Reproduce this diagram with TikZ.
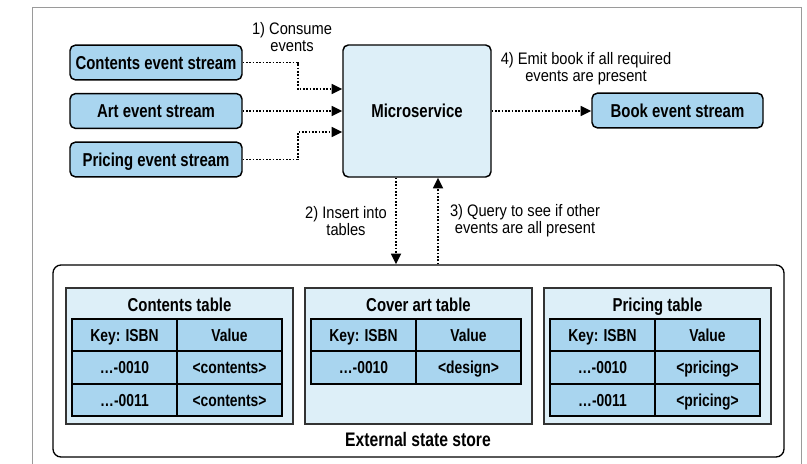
\documentclass[tikz,border=0pt]{standalone}
\usepackage{fontspec}
\setmainfont{Liberation Sans}[FakeStretch=0.88]
\newfontfamily\boxfont{Liberation Sans}[FakeStretch=0.8]
\usepackage{tikz}
\usetikzlibrary{arrows}
\usetikzlibrary{arrows.meta}
\usetikzlibrary{calc}
\tikzset{>={Triangle[length=8pt,width=7.5pt]}}
\definecolor{streamblue}{HTML}{A9D5EF}
\definecolor{paleblue}{HTML}{DDEFF8}
\definecolor{framegray}{HTML}{9A9A9A}
\tikzset{
	stream/.style={draw,line width=1.1pt,rounded corners=4pt,fill=streamblue,
		minimum width=129pt,minimum height=26pt,inner sep=0pt,
		text height=10pt,text depth=0pt,
		font=\boxfont\bfseries\fontsize{14}{16}\selectfont},
	service/.style={draw,line width=1.1pt,rounded corners=4pt,fill=paleblue,
		minimum width=111pt,minimum height=99pt,inner sep=0pt,
		text height=10pt,text depth=0pt,
		font=\boxfont\bfseries\fontsize{14}{16}\selectfont},
	store/.style={draw,line width=1pt,rounded corners=6pt,fill=white,
		minimum width=548.25pt,minimum height=144pt,inner sep=0pt},
	tablebg/.style={draw=black!80,line width=0.9pt,fill=paleblue,
		minimum width=170.25pt,minimum height=102pt,inner sep=0pt},
	cell/.style={draw,line width=1.4pt,fill=streamblue,
		minimum width=78.75pt,minimum height=24.4pt,inner sep=0pt,
		text height=9.3pt,text depth=0pt,
		font=\boxfont\bfseries\fontsize{13}{15}\selectfont},
	title/.style={inner sep=0pt,text height=10pt,text depth=0pt,
		font=\boxfont\bfseries\fontsize{14}{16}\selectfont},
	note/.style={align=center,inner sep=0pt,font=\fontsize{12.5}{13}\selectfont},
	flow/.style={->,line width=1.3pt,dash pattern=on 1.3pt off 1.2pt},
	frame/.style={draw=framegray,line width=0.75pt}
}
\newcommand{\tablebox}[3]{
	% #1: name
	% #2: x (left edge)
	% #3: title
	\node[tablebg] (#1) at (#2+113.5,356) {};
	\node[title] (#1title) at (#2+113.5,305) {#3};
}
\newcommand{\tablerow}[5]{
	% #1: name
	% #2: x (left edge of table box)
	% #3: y (row centre)
	% #4: key
	% #5: value
	\node[cell] (#1key) at (#2+58.5,#3) {#4};
	\node[cell] (#1val) at (#2+163.5,#3) {#5};
}

\begin{document}
\begin{tikzpicture}[x=0.75pt,y=-0.75pt]
\useasboundingbox (0,0) rectangle (807,464);

% page frame
\draw[frame] (32,470) -- (32,7) -- (801,7) -- (801,470);

% event streams
\node[stream] (contents) at (156,62.5) {Contents event stream};
\node[stream] (art) at (156,111) {Art event stream};
\node[stream] (pricing) at (156,159.5) {Pricing event stream};
\node[stream,minimum width=128.25pt] (book) at (677.5,110.5) {Book event stream};

% microservice
\node[service] (micro) at (417,111) {Microservice};
\coordinate (inA) at ($(micro.west)+(0,-22)$);
\coordinate (inC) at ($(micro.west)+(0,21)$);

% consume
\draw[flow] (contents.east) -- ++(55,0) |- (inA);
\draw[flow] (art.east) -- (art.east -| micro.west);
\draw[flow] (pricing.east) -- ++(55,0) |- (inC);
\node[note] (consume) at (292,37) {1) Consume\\events};

% emit
\draw[flow] (micro.east) -- (micro.east -| book.west);
\node[note] (emit) at (586,69) {4) Emit book if all required\\events are present};

% external state store
\node[store] (store) at (418.5,361) {};
\node[title,font=\boxfont\bfseries\fontsize{14.7}{16}\selectfont] (storetitle) at (418,440) {External state store};

% insert / query
\draw[flow] ([xshift=-15.75pt]micro.south) -- ([xshift=-15.75pt]micro.south |- store.north);
\draw[flow] ([xshift=15.75pt]micro.south |- store.north) -- ([xshift=15.75pt]micro.south);
\node[note] (insert) at (346,221) {2) Insert into\\tables};
\node[note] (query) at (525,221) {3) Query to see if other\\events are all present};

% tables
\tablebox{ctab}{66}{Contents table}
\tablerow{ctabh}{66}{335}{Key: ISBN}{Value}
\tablerow{ctaba}{66}{367.5}{…-0010}{<contents>}
\tablerow{ctabb}{66}{400}{…-0011}{<contents>}

\tablebox{atab}{305}{Cover art table}
\tablerow{atabh}{305}{335}{Key: ISBN}{Value}
\tablerow{ataba}{305}{367.5}{…-0010}{<design>}

\tablebox{ptab}{544}{Pricing table}
\tablerow{ptabh}{544}{335}{Key: ISBN}{Value}
\tablerow{ptaba}{544}{367.5}{…-0010}{<pricing>}
\tablerow{ptabb}{544}{400}{…-0011}{<pricing>}

\end{tikzpicture}
\end{document}
